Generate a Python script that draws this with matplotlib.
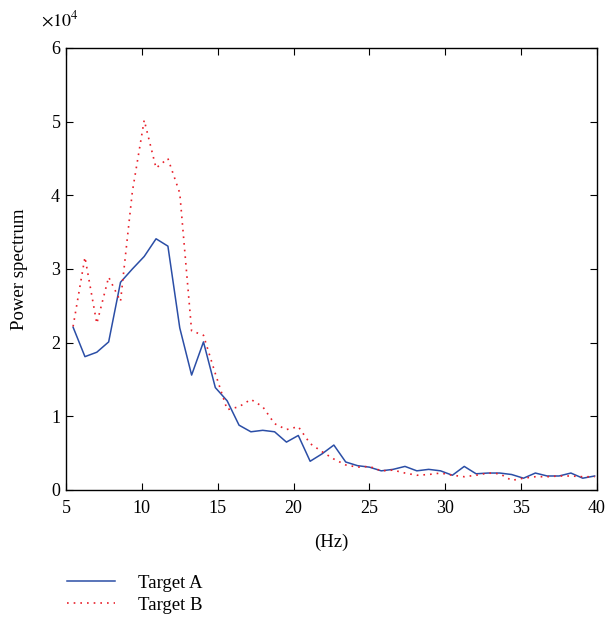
import numpy as np
import matplotlib
matplotlib.use("Agg")
import matplotlib.pyplot as plt
from matplotlib.ticker import ScalarFormatter

plt.rcParams['font.family'] = ['Liberation Serif', 'DejaVu Serif']
plt.rcParams['mathtext.fontset'] = 'stix'

# frequency bins (Hz), 0.78125 Hz resolution
bins = np.arange(7, 52)
freq = bins * 0.78125

target_a = [2.21, 1.81, 1.87, 2.01, 2.82, 3.00, 3.17, 3.41, 3.31, 2.20,
            1.56, 2.01, 1.39, 1.21, 0.88, 0.79, 0.81, 0.79, 0.65, 0.74,
            0.39, 0.49, 0.61, 0.38, 0.33, 0.31, 0.26, 0.28, 0.32, 0.26,
            0.28, 0.26, 0.20, 0.32, 0.22, 0.23, 0.23, 0.21, 0.16, 0.23,
            0.19, 0.19, 0.23, 0.16, 0.19]
target_b = [2.22, 3.16, 2.26, 2.89, 2.56, 4.05, 5.02, 4.37, 4.50, 4.03,
            2.16, 2.10, 1.58, 1.09, 1.13, 1.23, 1.13, 0.90, 0.82, 0.86,
            0.63, 0.52, 0.42, 0.34, 0.31, 0.32, 0.26, 0.27, 0.23, 0.20,
            0.21, 0.23, 0.20, 0.18, 0.20, 0.23, 0.22, 0.13, 0.16, 0.18,
            0.18, 0.19, 0.19, 0.18, 0.18]

a = np.array(target_a) * 1e4
b = np.array(target_b) * 1e4

fig = plt.figure(figsize=(6.07, 6.2), dpi=100)
ax = fig.add_axes([0.1087, 0.2097, 0.8748, 0.7129])

l1, = ax.plot(freq, a, color='#2b4ea6', lw=1.1, label='Target A')
l2, = ax.plot(freq, b, color='#e8202a', lw=1.2, ls=(0, (1, 3)), label='Target B')

ax.set_xlim(5, 40)
ax.set_ylim(0, 6e4)
ax.set_xticks(np.arange(5, 41, 5))
ax.set_yticks(np.arange(0, 6.01e4, 1e4))
fmt = ScalarFormatter(useMathText=True)
fmt.set_powerlimits((0, 0))
ax.yaxis.set_major_formatter(fmt)
ax.yaxis.get_offset_text().set_visible(False)
fig.text(0.068, 0.968, r'$\times10^4$', fontsize=13, ha='left', va='center')

ax.tick_params(direction='in', top=True, right=True, labelsize=13, length=5)
ax.tick_params(axis='x', pad=7)
for s in ax.spines.values():
    s.set_linewidth(1.0)

ax.set_xlabel('(Hz)', fontsize=13.5, labelpad=12)
ax.set_ylabel('Power spectrum', fontsize=13.5, labelpad=16)

fig.legend(handles=[l1, l2], loc='upper left', bbox_to_anchor=(0.082, 0.1),
           frameon=False, fontsize=13.5, handlelength=2.6, labelspacing=0.25,
           handletextpad=1.2)

fig.savefig('out.png', dpi=100)
